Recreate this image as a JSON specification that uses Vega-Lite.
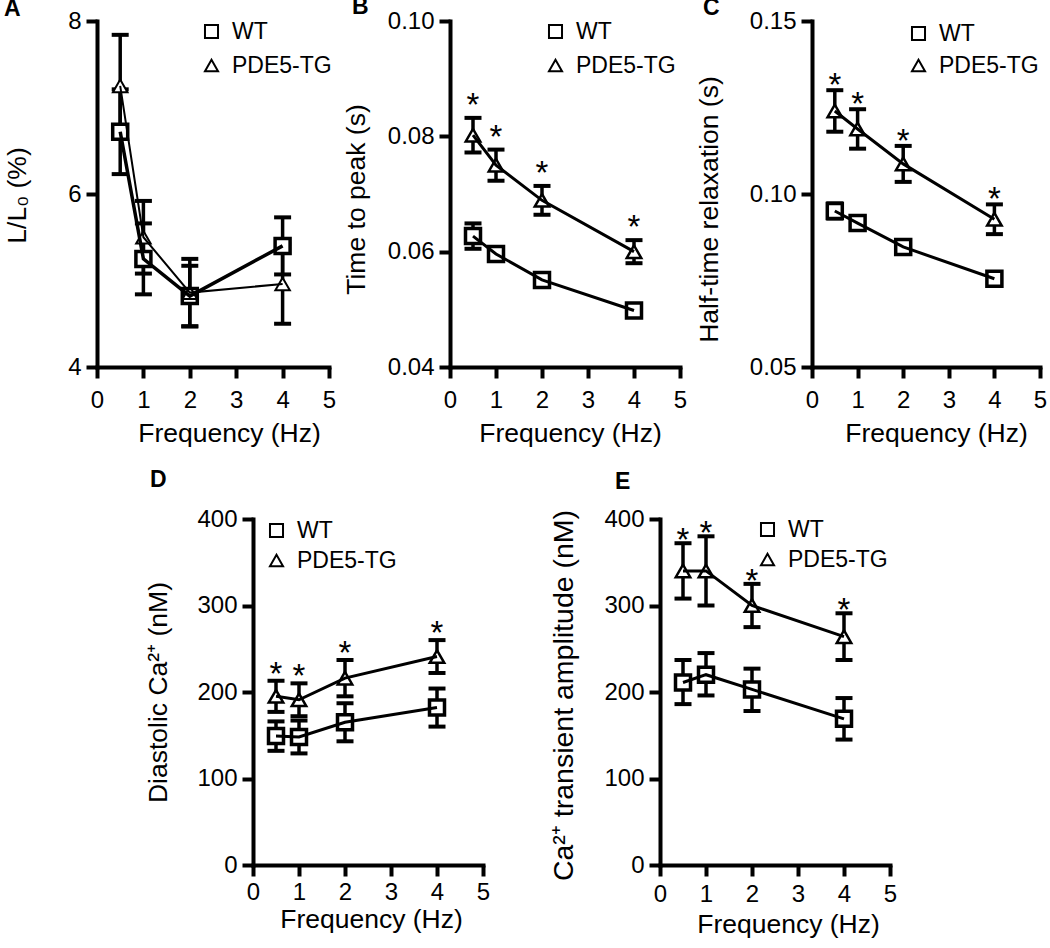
{
  "$schema": "https://vega.github.io/schema/vega-lite/v6.json",
  "padding": {"left": 4, "top": -4, "right": 0, "bottom": 0},
  "background": "white",
  "datasets": {
    "d": [
      {"p": "A", "g": "WT", "hz": 0.5, "m": 6.72, "lo": 6.23, "hi": 7.21, "sig": 0},
      {"p": "A", "g": "WT", "hz": 1, "m": 5.25, "lo": 4.84, "hi": 5.66, "sig": 0},
      {"p": "A", "g": "WT", "hz": 2, "m": 4.82, "lo": 4.47, "hi": 5.17, "sig": 0},
      {"p": "A", "g": "WT", "hz": 4, "m": 5.40, "lo": 5.07, "hi": 5.73, "sig": 0},
      {"p": "A", "g": "PDE5-TG", "hz": 0.5, "m": 7.25, "lo": 6.66, "hi": 7.84, "sig": 0},
      {"p": "A", "g": "PDE5-TG", "hz": 1, "m": 5.50, "lo": 5.08, "hi": 5.92, "sig": 0},
      {"p": "A", "g": "PDE5-TG", "hz": 2, "m": 4.86, "lo": 4.47, "hi": 5.25, "sig": 0},
      {"p": "A", "g": "PDE5-TG", "hz": 4, "m": 4.96, "lo": 4.50, "hi": 5.42, "sig": 0},
      {"p": "B", "g": "WT", "hz": 0.5, "m": 0.0627, "lo": 0.0605, "hi": 0.0649, "sig": 0},
      {"p": "B", "g": "WT", "hz": 1, "m": 0.0596, "lo": 0.0586, "hi": 0.0606, "sig": 0},
      {"p": "B", "g": "WT", "hz": 2, "m": 0.0551, "lo": 0.0544, "hi": 0.0558, "sig": 0},
      {"p": "B", "g": "WT", "hz": 4, "m": 0.0498, "lo": 0.0491, "hi": 0.0505, "sig": 0},
      {"p": "B", "g": "PDE5-TG", "hz": 0.5, "m": 0.0802, "lo": 0.0772, "hi": 0.0832, "sig": 1},
      {"p": "B", "g": "PDE5-TG", "hz": 1, "m": 0.0750, "lo": 0.0723, "hi": 0.0777, "sig": 1},
      {"p": "B", "g": "PDE5-TG", "hz": 2, "m": 0.0689, "lo": 0.0664, "hi": 0.0714, "sig": 1},
      {"p": "B", "g": "PDE5-TG", "hz": 4, "m": 0.0600, "lo": 0.0580, "hi": 0.0620, "sig": 1},
      {"p": "C", "g": "WT", "hz": 0.5, "m": 0.0951, "lo": 0.0929, "hi": 0.0973, "sig": 0},
      {"p": "C", "g": "WT", "hz": 1, "m": 0.0916, "lo": 0.0898, "hi": 0.0934, "sig": 0},
      {"p": "C", "g": "WT", "hz": 2, "m": 0.0847, "lo": 0.0829, "hi": 0.0865, "sig": 0},
      {"p": "C", "g": "WT", "hz": 4, "m": 0.0755, "lo": 0.0743, "hi": 0.0767, "sig": 0},
      {"p": "C", "g": "PDE5-TG", "hz": 0.5, "m": 0.1240, "lo": 0.1180, "hi": 0.1300, "sig": 1},
      {"p": "C", "g": "PDE5-TG", "hz": 1, "m": 0.1188, "lo": 0.1131, "hi": 0.1245, "sig": 1},
      {"p": "C", "g": "PDE5-TG", "hz": 2, "m": 0.1087, "lo": 0.1035, "hi": 0.1139, "sig": 1},
      {"p": "C", "g": "PDE5-TG", "hz": 4, "m": 0.0927, "lo": 0.0884, "hi": 0.0970, "sig": 1},
      {"p": "D", "g": "WT", "hz": 0.5, "m": 149, "lo": 132, "hi": 166, "sig": 0},
      {"p": "D", "g": "WT", "hz": 1, "m": 148, "lo": 129, "hi": 167, "sig": 0},
      {"p": "D", "g": "WT", "hz": 2, "m": 165, "lo": 143, "hi": 187, "sig": 0},
      {"p": "D", "g": "WT", "hz": 4, "m": 182, "lo": 160, "hi": 204, "sig": 0},
      {"p": "D", "g": "PDE5-TG", "hz": 0.5, "m": 195, "lo": 177, "hi": 213, "sig": 1},
      {"p": "D", "g": "PDE5-TG", "hz": 1, "m": 191, "lo": 172, "hi": 210, "sig": 1},
      {"p": "D", "g": "PDE5-TG", "hz": 2, "m": 216, "lo": 195, "hi": 237, "sig": 1},
      {"p": "D", "g": "PDE5-TG", "hz": 4, "m": 241, "lo": 222, "hi": 260, "sig": 1},
      {"p": "E", "g": "WT", "hz": 0.5, "m": 211, "lo": 186, "hi": 237, "sig": 0},
      {"p": "E", "g": "WT", "hz": 1, "m": 220, "lo": 196, "hi": 245, "sig": 0},
      {"p": "E", "g": "WT", "hz": 2, "m": 203, "lo": 178, "hi": 227, "sig": 0},
      {"p": "E", "g": "WT", "hz": 4, "m": 169, "lo": 145, "hi": 193, "sig": 0},
      {"p": "E", "g": "PDE5-TG", "hz": 0.5, "m": 340, "lo": 308, "hi": 372, "sig": 1},
      {"p": "E", "g": "PDE5-TG", "hz": 1, "m": 340, "lo": 300, "hi": 380, "sig": 1},
      {"p": "E", "g": "PDE5-TG", "hz": 2, "m": 300, "lo": 275, "hi": 325, "sig": 1},
      {"p": "E", "g": "PDE5-TG", "hz": 4, "m": 264, "lo": 237, "hi": 291, "sig": 1}
    ]
  },
  "vconcat": [
    {
      "hconcat": [
        {
          "width": 232, "height": 346,
          "data": {"name": "d"},
          "transform": [{"filter": "datum.p === 'A'"}],
          "title": {"text": "A", "dx": -93, "dy": 16},
          "encoding": {
            "x": {"field": "hz", "type": "quantitative", "scale": {"domain": [0, 5], "nice": false, "zero": false},
                  "axis": {"values": [0, 1, 2, 3, 4, 5], "title": "Frequency (Hz)", "titleX": 132}}
          },
          "layer": [
            {"mark": {"type": "rule", "color": "black", "strokeWidth": 3.5},
             "encoding": {"y": {"field": "lo", "type": "quantitative", "title": "L/L₀ (%)", "scale": {"domain": [4, 8], "nice": false, "zero": false},
                                "axis": {"values": [4, 6, 8], "format": "d", "titlePadding": 36, "titleY": 174}},
                          "y2": {"field": "hi"}}},
            {"mark": {"type": "tick", "orient": "horizontal", "color": "black", "opacity": 1, "size": 17, "thickness": 4},
             "encoding": {"y": {"field": "lo", "type": "quantitative", "title": "L/L₀ (%)"}}},
            {"mark": {"type": "tick", "orient": "horizontal", "color": "black", "opacity": 1, "size": 17, "thickness": 4},
             "encoding": {"y": {"field": "hi", "type": "quantitative", "title": "L/L₀ (%)"}}},
            {"transform": [{"filter": "datum.g === 'WT'"}],
             "mark": {"type": "point", "shape": "square", "filled": true, "fill": "white", "strokeWidth": 0, "opacity": 1, "size": 225},
             "encoding": {"y": {"field": "m", "type": "quantitative", "title": "L/L₀ (%)"}}},
            {"transform": [{"filter": "datum.g === 'PDE5-TG'"}],
             "mark": {"type": "point", "shape": "triangle-up", "filled": true, "fill": "white", "strokeWidth": 0, "opacity": 1, "size": 210},
             "encoding": {"y": {"field": "m", "type": "quantitative", "title": "L/L₀ (%)"}}},
            {"transform": [{"filter": "datum.g === 'WT'"}],
             "mark": {"type": "line", "color": "black", "strokeWidth": 3.5},
             "encoding": {"y": {"field": "m", "type": "quantitative", "title": "L/L₀ (%)"}}},
            {"transform": [{"filter": "datum.g === 'PDE5-TG'"}],
             "mark": {"type": "line", "color": "black", "strokeWidth": 2},
             "encoding": {"y": {"field": "m", "type": "quantitative", "title": "L/L₀ (%)"}}},
            {"transform": [{"filter": "datum.g === 'WT'"}],
             "mark": {"type": "point", "filled": false, "color": "black", "opacity": 1, "size": 225, "strokeWidth": 3.5},
             "encoding": {
               "y": {"field": "m", "type": "quantitative", "title": "L/L₀ (%)"},
               "shape": {"field": "g", "type": "nominal", "scale": {"domain": ["WT", "PDE5-TG"], "range": ["square", "triangle-up"]},
                         "legend": {"orient": "none", "legendX": 103, "legendY": -1, "title": null, "rowPadding": 10, "symbolStrokeColor": "black", "symbolStrokeWidth": 2}}
             }},
            {"transform": [{"filter": "datum.g === 'PDE5-TG'"}],
             "mark": {"type": "point", "filled": false, "color": "black", "opacity": 1, "size": 210, "strokeWidth": 2},
             "encoding": {
               "y": {"field": "m", "type": "quantitative", "title": "L/L₀ (%)"},
               "shape": {"field": "g", "type": "nominal", "scale": {"domain": ["WT", "PDE5-TG"], "range": ["square", "triangle-up"]},
                         "legend": {"orient": "none", "legendX": 103, "legendY": -1, "title": null, "rowPadding": 10, "symbolStrokeColor": "black", "symbolStrokeWidth": 2}}
             }}
          ]
        },
        {"width": 120.5, "height": 346, "data": {"values": []}, "mark": {"type": "point", "opacity": 0}},
        {
          "width": 230, "height": 346,
          "data": {"name": "d"},
          "transform": [{"filter": "datum.p === 'B'"}],
          "title": {"text": "B", "dx": -98, "dy": 14},
          "encoding": {
            "x": {"field": "hz", "type": "quantitative", "scale": {"domain": [0, 5], "nice": false, "zero": false},
                  "axis": {"values": [0, 1, 2, 3, 4, 5], "title": "Frequency (Hz)", "titleX": 120}}
          },
          "layer": [
            {"mark": {"type": "rule", "color": "black", "strokeWidth": 3.5},
             "encoding": {"y": {"field": "lo", "type": "quantitative", "title": "Time to peak (s)", "scale": {"domain": [0.04, 0.1], "nice": false, "zero": false},
                                "axis": {"values": [0.04, 0.06, 0.08, 0.1], "format": ".2f", "titlePadding": 17, "titleY": 178}},
                          "y2": {"field": "hi"}}},
            {"mark": {"type": "tick", "orient": "horizontal", "color": "black", "opacity": 1, "size": 17, "thickness": 4},
             "encoding": {"y": {"field": "lo", "type": "quantitative", "title": "Time to peak (s)"}}},
            {"mark": {"type": "tick", "orient": "horizontal", "color": "black", "opacity": 1, "size": 17, "thickness": 4},
             "encoding": {"y": {"field": "hi", "type": "quantitative", "title": "Time to peak (s)"}}},
            {"transform": [{"filter": "datum.g === 'WT'"}],
             "mark": {"type": "point", "shape": "square", "filled": true, "fill": "white", "strokeWidth": 0, "opacity": 1, "size": 225},
             "encoding": {"y": {"field": "m", "type": "quantitative", "title": "Time to peak (s)"}}},
            {"transform": [{"filter": "datum.g === 'PDE5-TG'"}],
             "mark": {"type": "point", "shape": "triangle-up", "filled": true, "fill": "white", "strokeWidth": 0, "opacity": 1, "size": 210},
             "encoding": {"y": {"field": "m", "type": "quantitative", "title": "Time to peak (s)"}}},
            {"mark": {"type": "line", "color": "black", "strokeWidth": 3},
             "encoding": {"y": {"field": "m", "type": "quantitative", "title": "Time to peak (s)"}, "detail": {"field": "g"}}},
            {"transform": [{"filter": "datum.g === 'WT'"}],
             "mark": {"type": "point", "filled": false, "color": "black", "opacity": 1, "size": 225, "strokeWidth": 3.5},
             "encoding": {
               "y": {"field": "m", "type": "quantitative", "title": "Time to peak (s)"},
               "shape": {"field": "g", "type": "nominal", "scale": {"domain": ["WT", "PDE5-TG"], "range": ["square", "triangle-up"]},
                         "legend": {"orient": "none", "legendX": 94, "legendY": -1, "title": null, "rowPadding": 10, "symbolStrokeColor": "black", "symbolStrokeWidth": 2}}
             }},
            {"transform": [{"filter": "datum.g === 'PDE5-TG'"}],
             "mark": {"type": "point", "filled": false, "color": "black", "opacity": 1, "size": 210, "strokeWidth": 2.5},
             "encoding": {
               "y": {"field": "m", "type": "quantitative", "title": "Time to peak (s)"},
               "shape": {"field": "g", "type": "nominal", "scale": {"domain": ["WT", "PDE5-TG"], "range": ["square", "triangle-up"]},
                         "legend": {"orient": "none", "legendX": 94, "legendY": -1, "title": null, "rowPadding": 10, "symbolStrokeColor": "black", "symbolStrokeWidth": 2}}
             }},
            {"transform": [{"filter": "datum.sig === 1"}],
             "mark": {"type": "text", "text": "*", "fontSize": 33, "baseline": "alphabetic", "dy": -2, "color": "black"},
             "encoding": {"y": {"field": "hi", "type": "quantitative", "title": "Time to peak (s)"}}}
          ]
        },
        {"width": 132, "height": 346, "data": {"values": []}, "mark": {"type": "point", "opacity": 0}},
        {
          "width": 228, "height": 346,
          "data": {"name": "d"},
          "transform": [{"filter": "datum.p === 'C'"}],
          "title": {"text": "C", "dx": -109, "dy": 15},
          "encoding": {
            "x": {"field": "hz", "type": "quantitative", "scale": {"domain": [0, 5], "nice": false, "zero": false},
                  "axis": {"values": [0, 1, 2, 3, 4, 5], "title": "Frequency (Hz)", "titleX": 124}}
          },
          "layer": [
            {"mark": {"type": "rule", "color": "black", "strokeWidth": 3.5},
             "encoding": {"y": {"field": "lo", "type": "quantitative", "title": "Half-time relaxation (s)", "scale": {"domain": [0.05, 0.15], "nice": false, "zero": false},
                                "axis": {"values": [0.05, 0.1, 0.15], "format": ".2f", "titlePadding": 26, "titleY": 188}},
                          "y2": {"field": "hi"}}},
            {"mark": {"type": "tick", "orient": "horizontal", "color": "black", "opacity": 1, "size": 17, "thickness": 4},
             "encoding": {"y": {"field": "lo", "type": "quantitative", "title": "Half-time relaxation (s)"}}},
            {"mark": {"type": "tick", "orient": "horizontal", "color": "black", "opacity": 1, "size": 17, "thickness": 4},
             "encoding": {"y": {"field": "hi", "type": "quantitative", "title": "Half-time relaxation (s)"}}},
            {"transform": [{"filter": "datum.g === 'WT'"}],
             "mark": {"type": "point", "shape": "square", "filled": true, "fill": "white", "strokeWidth": 0, "opacity": 1, "size": 225},
             "encoding": {"y": {"field": "m", "type": "quantitative", "title": "Half-time relaxation (s)"}}},
            {"transform": [{"filter": "datum.g === 'PDE5-TG'"}],
             "mark": {"type": "point", "shape": "triangle-up", "filled": true, "fill": "white", "strokeWidth": 0, "opacity": 1, "size": 210},
             "encoding": {"y": {"field": "m", "type": "quantitative", "title": "Half-time relaxation (s)"}}},
            {"mark": {"type": "line", "color": "black", "strokeWidth": 3},
             "encoding": {"y": {"field": "m", "type": "quantitative", "title": "Half-time relaxation (s)"}, "detail": {"field": "g"}}},
            {"transform": [{"filter": "datum.g === 'WT'"}],
             "mark": {"type": "point", "filled": false, "color": "black", "opacity": 1, "size": 225, "strokeWidth": 3.5},
             "encoding": {
               "y": {"field": "m", "type": "quantitative", "title": "Half-time relaxation (s)"},
               "shape": {"field": "g", "type": "nominal", "scale": {"domain": ["WT", "PDE5-TG"], "range": ["square", "triangle-up"]},
                         "legend": {"orient": "none", "legendX": 95, "legendY": 1, "title": null, "rowPadding": 8, "symbolStrokeColor": "black", "symbolStrokeWidth": 2}}
             }},
            {"transform": [{"filter": "datum.g === 'PDE5-TG'"}],
             "mark": {"type": "point", "filled": false, "color": "black", "opacity": 1, "size": 210, "strokeWidth": 2.5},
             "encoding": {
               "y": {"field": "m", "type": "quantitative", "title": "Half-time relaxation (s)"},
               "shape": {"field": "g", "type": "nominal", "scale": {"domain": ["WT", "PDE5-TG"], "range": ["square", "triangle-up"]},
                         "legend": {"orient": "none", "legendX": 95, "legendY": 1, "title": null, "rowPadding": 8, "symbolStrokeColor": "black", "symbolStrokeWidth": 2}}
             }},
            {"transform": [{"filter": "datum.sig === 1"}],
             "mark": {"type": "text", "text": "*", "fontSize": 33, "baseline": "alphabetic", "dy": 6, "color": "black"},
             "encoding": {"y": {"field": "hi", "type": "quantitative", "title": "Half-time relaxation (s)"}}}
          ]
        }
      ],
      "spacing": 0,
      "bounds": "flush",
      "resolve": {"scale": {"x": "independent", "y": "independent", "shape": "independent"}, "legend": {"shape": "independent"}}
    },
    {
      "hconcat": [
        {"width": 155.5, "height": 346, "data": {"values": []}, "mark": {"type": "point", "opacity": 0}},
        {
          "width": 230, "height": 346,
          "data": {"name": "d"},
          "transform": [{"filter": "datum.p === 'D'"}],
          "title": {"text": "D", "dx": -103, "dy": -11},
          "encoding": {
            "x": {"field": "hz", "type": "quantitative", "scale": {"domain": [0, 5], "nice": false, "zero": false},
                  "axis": {"values": [0, 1, 2, 3, 4, 5], "title": "Frequency (Hz)", "titleX": 118, "labelPadding": 4, "titlePadding": 2}}
          },
          "layer": [
            {"mark": {"type": "rule", "color": "black", "strokeWidth": 3.5},
             "encoding": {"y": {"field": "lo", "type": "quantitative", "title": "Diastolic Ca²⁺ (nM)", "scale": {"domain": [0, 400], "nice": false},
                                "axis": {"values": [0, 100, 200, 300, 400], "format": "d", "titlePadding": 24, "titleY": 173}},
                          "y2": {"field": "hi"}}},
            {"mark": {"type": "tick", "orient": "horizontal", "color": "black", "opacity": 1, "size": 17, "thickness": 4},
             "encoding": {"y": {"field": "lo", "type": "quantitative", "title": "Diastolic Ca²⁺ (nM)"}}},
            {"mark": {"type": "tick", "orient": "horizontal", "color": "black", "opacity": 1, "size": 17, "thickness": 4},
             "encoding": {"y": {"field": "hi", "type": "quantitative", "title": "Diastolic Ca²⁺ (nM)"}}},
            {"transform": [{"filter": "datum.g === 'WT'"}],
             "mark": {"type": "point", "shape": "square", "filled": true, "fill": "white", "strokeWidth": 0, "opacity": 1, "size": 225},
             "encoding": {"y": {"field": "m", "type": "quantitative", "title": "Diastolic Ca²⁺ (nM)"}}},
            {"transform": [{"filter": "datum.g === 'PDE5-TG'"}],
             "mark": {"type": "point", "shape": "triangle-up", "filled": true, "fill": "white", "strokeWidth": 0, "opacity": 1, "size": 210},
             "encoding": {"y": {"field": "m", "type": "quantitative", "title": "Diastolic Ca²⁺ (nM)"}}},
            {"mark": {"type": "line", "color": "black", "strokeWidth": 3},
             "encoding": {"y": {"field": "m", "type": "quantitative", "title": "Diastolic Ca²⁺ (nM)"}, "detail": {"field": "g"}}},
            {"transform": [{"filter": "datum.g === 'WT'"}],
             "mark": {"type": "point", "filled": false, "color": "black", "opacity": 1, "size": 225, "strokeWidth": 3.5},
             "encoding": {
               "y": {"field": "m", "type": "quantitative", "title": "Diastolic Ca²⁺ (nM)"},
               "shape": {"field": "g", "type": "nominal", "scale": {"domain": ["WT", "PDE5-TG"], "range": ["square", "triangle-up"]},
                         "legend": {"orient": "none", "legendX": 12, "legendY": 0, "title": null, "rowPadding": 6, "symbolStrokeColor": "black", "symbolStrokeWidth": 2}}
             }},
            {"transform": [{"filter": "datum.g === 'PDE5-TG'"}],
             "mark": {"type": "point", "filled": false, "color": "black", "opacity": 1, "size": 210, "strokeWidth": 2.5},
             "encoding": {
               "y": {"field": "m", "type": "quantitative", "title": "Diastolic Ca²⁺ (nM)"},
               "shape": {"field": "g", "type": "nominal", "scale": {"domain": ["WT", "PDE5-TG"], "range": ["square", "triangle-up"]},
                         "legend": {"orient": "none", "legendX": 12, "legendY": 0, "title": null, "rowPadding": 6, "symbolStrokeColor": "black", "symbolStrokeWidth": 2}}
             }},
            {"transform": [{"filter": "datum.sig === 1"}],
             "mark": {"type": "text", "text": "*", "fontSize": 33, "baseline": "alphabetic", "dy": 4, "color": "black"},
             "encoding": {"y": {"field": "hi", "type": "quantitative", "title": "Diastolic Ca²⁺ (nM)"}}}
          ]
        },
        {"width": 177, "height": 346, "data": {"values": []}, "mark": {"type": "point", "opacity": 0}},
        {
          "width": 230, "height": 346,
          "data": {"name": "d"},
          "transform": [{"filter": "datum.p === 'E'"}],
          "title": {"text": "E", "dx": -45, "dy": -9},
          "encoding": {
            "x": {"field": "hz", "type": "quantitative", "scale": {"domain": [0, 5], "nice": false, "zero": false},
                  "axis": {"values": [0, 1, 2, 3, 4, 5], "title": "Frequency (Hz)", "titleX": 128, "labelPadding": 6, "titlePadding": 5}}
          },
          "layer": [
            {"mark": {"type": "rule", "color": "black", "strokeWidth": 3.5},
             "encoding": {"y": {"field": "lo", "type": "quantitative", "title": "Ca²⁺ transient amplitude (nM)", "scale": {"domain": [0, 400], "nice": false},
                                "axis": {"values": [0, 100, 200, 300, 400], "format": "d", "titlePadding": 25, "titleY": 176, "titleFontSize": 28.5}},
                          "y2": {"field": "hi"}}},
            {"mark": {"type": "tick", "orient": "horizontal", "color": "black", "opacity": 1, "size": 17, "thickness": 4},
             "encoding": {"y": {"field": "lo", "type": "quantitative", "title": "Ca²⁺ transient amplitude (nM)"}}},
            {"mark": {"type": "tick", "orient": "horizontal", "color": "black", "opacity": 1, "size": 17, "thickness": 4},
             "encoding": {"y": {"field": "hi", "type": "quantitative", "title": "Ca²⁺ transient amplitude (nM)"}}},
            {"transform": [{"filter": "datum.g === 'WT'"}],
             "mark": {"type": "point", "shape": "square", "filled": true, "fill": "white", "strokeWidth": 0, "opacity": 1, "size": 225},
             "encoding": {"y": {"field": "m", "type": "quantitative", "title": "Ca²⁺ transient amplitude (nM)"}}},
            {"transform": [{"filter": "datum.g === 'PDE5-TG'"}],
             "mark": {"type": "point", "shape": "triangle-up", "filled": true, "fill": "white", "strokeWidth": 0, "opacity": 1, "size": 210},
             "encoding": {"y": {"field": "m", "type": "quantitative", "title": "Ca²⁺ transient amplitude (nM)"}}},
            {"mark": {"type": "line", "color": "black", "strokeWidth": 3},
             "encoding": {"y": {"field": "m", "type": "quantitative", "title": "Ca²⁺ transient amplitude (nM)"}, "detail": {"field": "g"}}},
            {"transform": [{"filter": "datum.g === 'WT'"}],
             "mark": {"type": "point", "filled": false, "color": "black", "opacity": 1, "size": 225, "strokeWidth": 3.5},
             "encoding": {
               "y": {"field": "m", "type": "quantitative", "title": "Ca²⁺ transient amplitude (nM)"},
               "shape": {"field": "g", "type": "nominal", "scale": {"domain": ["WT", "PDE5-TG"], "range": ["square", "triangle-up"]},
                         "legend": {"orient": "none", "legendX": 96, "legendY": -1, "title": null, "rowPadding": 6, "symbolStrokeColor": "black", "symbolStrokeWidth": 2}}
             }},
            {"transform": [{"filter": "datum.g === 'PDE5-TG'"}],
             "mark": {"type": "point", "filled": false, "color": "black", "opacity": 1, "size": 210, "strokeWidth": 2.5},
             "encoding": {
               "y": {"field": "m", "type": "quantitative", "title": "Ca²⁺ transient amplitude (nM)"},
               "shape": {"field": "g", "type": "nominal", "scale": {"domain": ["WT", "PDE5-TG"], "range": ["square", "triangle-up"]},
                         "legend": {"orient": "none", "legendX": 96, "legendY": -1, "title": null, "rowPadding": 6, "symbolStrokeColor": "black", "symbolStrokeWidth": 2}}
             }},
            {"transform": [{"filter": "datum.sig === 1"}],
             "mark": {"type": "text", "text": "*", "fontSize": 33, "baseline": "alphabetic", "dy": 8, "color": "black"},
             "encoding": {"y": {"field": "hi", "type": "quantitative", "title": "Ca²⁺ transient amplitude (nM)"}}}
          ]
        }
      ],
      "spacing": 0,
      "bounds": "flush",
      "resolve": {"scale": {"x": "independent", "y": "independent", "shape": "independent"}, "legend": {"shape": "independent"}}
    }
  ],
  "spacing": 22,
  "resolve": {"scale": {"x": "independent", "y": "independent", "shape": "independent"}, "legend": {"shape": "independent"}},
  "config": {
    "font": "Liberation Sans",
    "view": {"stroke": null},
    "axis": {
      "domainColor": "black", "domainWidth": 4, "domainCap": "square",
      "tickColor": "black", "tickWidth": 4, "tickSize": 11,
      "labelFont": "Liberation Sans", "labelFontSize": 24, "labelColor": "black", "labelFlush": false, "labelOverlap": false,
      "titleFont": "Liberation Sans", "titleFontSize": 26.5, "titleFontWeight": "normal", "titleColor": "black",
      "grid": false
    },
    "axisX": {"labelPadding": 10, "titlePadding": 8},
    "axisY": {"labelPadding": 5},
    "tick": {"opacity": 1},
    "legend": {
      "labelFont": "Liberation Sans", "labelFontSize": 23, "labelColor": "black",
      "symbolStrokeColor": "black", "symbolStrokeWidth": 2, "symbolSize": 170,
      "labelOffset": 9, "padding": 0
    },
    "title": {"font": "Liberation Sans", "fontSize": 23, "fontWeight": "bold", "anchor": "start", "frame": "group", "color": "black", "offset": 0}
  }
}
